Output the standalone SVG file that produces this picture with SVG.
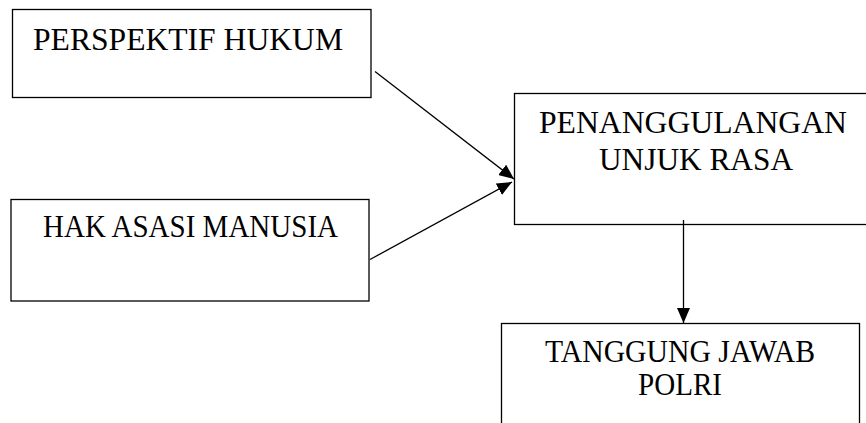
<svg xmlns="http://www.w3.org/2000/svg" width="866" height="423" viewBox="0 0 866 423">
<defs>
<style>
.box{fill:#fff;stroke:#000;stroke-width:1.3}
.t{font-family:'Liberation Serif','DejaVu Serif',serif;font-size:31px;fill:#000}
.c{stroke:#000;stroke-width:1.3;fill:none}
</style>
<marker id="ah" viewBox="0 0 15 13" refX="15" refY="6.5" markerWidth="15" markerHeight="13" markerUnits="userSpaceOnUse" orient="auto">
<path d="M0,0 L15,6.5 L0,13 Z" fill="#000"/>
</marker>
</defs>
<rect width="866" height="423" fill="#fff"/>
<g id="n1">
<rect class="box" x="12.5" y="9.5" width="358.5" height="88"/>
<text class="t" x="33" y="50" textLength="310" lengthAdjust="spacingAndGlyphs">PERSPEKTIF HUKUM</text>
</g>
<g id="n2">
<rect class="box" x="11" y="199.5" width="358" height="101.5"/>
<text class="t" x="43" y="236.5" textLength="295" lengthAdjust="spacingAndGlyphs">HAK ASASI MANUSIA</text>
</g>
<g id="n3">
<rect class="box" x="514.5" y="93.5" width="360" height="131"/>
<text class="t" x="539" y="133" textLength="308" lengthAdjust="spacingAndGlyphs">PENANGGULANGAN</text>
<text class="t" x="599" y="170" textLength="194" lengthAdjust="spacingAndGlyphs">UNJUK RASA</text>
</g>
<g id="n4">
<rect class="box" x="501.5" y="323.5" width="358" height="110"/>
<text class="t" x="545" y="361.5" textLength="270" lengthAdjust="spacingAndGlyphs">TANGGUNG JAWAB</text>
<text class="t" x="638" y="395" textLength="84" lengthAdjust="spacingAndGlyphs">POLRI</text>
</g>
<g id="connectors">
<line class="c" x1="375" y1="71.5" x2="514" y2="179" marker-end="url(#ah)"/>
<line class="c" x1="370" y1="259.5" x2="512" y2="182" marker-end="url(#ah)"/>
<line class="c" x1="683.5" y1="220" x2="683.5" y2="323" marker-end="url(#ah)"/>
</g>
</svg>
